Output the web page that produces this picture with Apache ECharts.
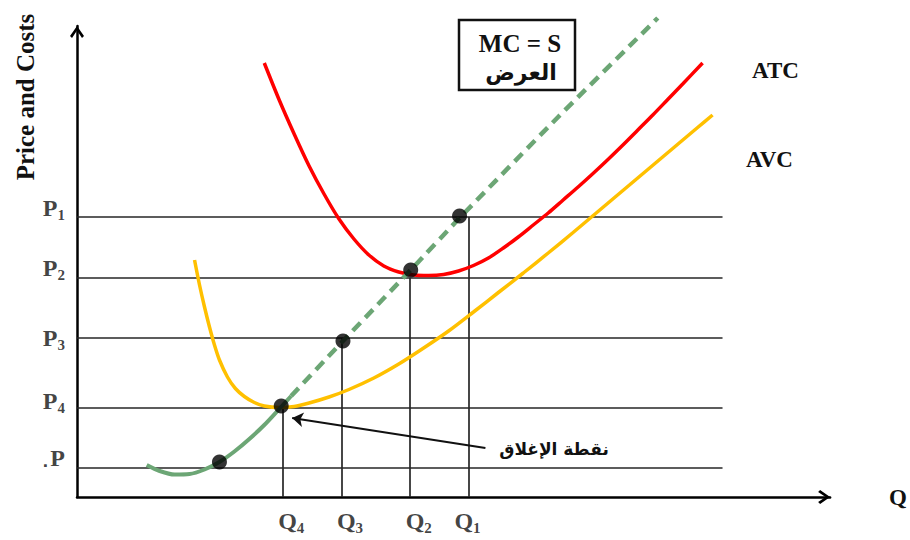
<!DOCTYPE html>
<html>
<head>
<meta charset="utf-8">
<script src="https://cdn.jsdelivr.net/npm/echarts@6/dist/echarts.min.js"></script>
<style>
html,body{margin:0;padding:0;background:#fff;}
#chart{width:910px;height:540px;}
</style>
</head>
<body>
<div id="chart"></div>
<script>
// ---- data (units) ----
const priceNames = ['P1', 'P2', 'P3', 'P4', 'P0'];
const priceLevels = [280, 219, 159, 89, 29];
const priceLineEnd = 648;
const qNames = ['Q4', 'Q3', 'Q2', 'Q1'];
const qValues = [207, 266, 334, 393];
const qTops = [89, 159, 219, 280];
const mcSolid = [[70,32],[83,26],[98,22.5],[113,23],[128,27.5],[143,35],[158,45.5],[173,58],[188,72],[203,88],[215,101]];
const mcDashed = [[215,101],[267,156],[335,227],[384,279],[483,380],[583,479]];
const atc = [[188,434],[203,397],[218,363],[233,331],[248,303],[263,278],[278,258],[293,242],[308,231],[323,225],[338,222],[353,221.5],[368,222.5],[383,226],[398,231.5],[413,239],[428,249],[443,260],[458,272],[473,284],[488,297],[503,310],[518,323.5],[533,337.5],[548,352],[563,367],[578,382],[593,397.5],[608,413],[628,434]];
const avc = [[118,237],[123,212],[128,190],[133,170],[138,152],[143,137],[151,120],[159,108.5],[168,100.5],[178,94.5],[188,91],[203,89.5],[218,90.5],[233,94],[253,100],[273,107.5],[298,119],[323,133],[348,149],[373,166],[398,185],[423,204.5],[448,224],[473,244],[498,264.5],[523,285.5],[548,306.5],[573,327.5],[598,348.5],[623,369.5],[638,382]];
const keyPoints = [[143,35],[205,91],[267,156],[335,227],[384,281]];
const shutdownArrow = [[410,49],[216,79]];

// ---- styles ----
const serif = '"Liberation Serif", "Times New Roman", serif';
const arabic = '"DejaVu Sans", "Noto Sans", sans-serif';
const priceLabelDy = [-9, -10, 0, -7, -10];
const qLabelDx = [8, 8, 9, -1];
const chevron = 'path://M7,0L14,10L12,12L7,4.5L2,12L0,10Z';
const subRich = {
  m: {fontSize: 24, fontWeight: 'bold', fontFamily: serif, color: '#111', lineHeight: 28, verticalAlign: 'middle'},
  s: {fontSize: 15, fontWeight: 'bold', fontFamily: serif, color: '#111', lineHeight: 15, verticalAlign: 'bottom'},
  z: {fontSize: 16, fontWeight: 'bold', fontFamily: arabic, color: '#111', lineHeight: 15, verticalAlign: 'bottom'}
};
function subFmt(name) {
  const letter = name.charAt(0), idx = name.slice(1);
  if (idx === '0') return '{z|٠}{m|' + letter + '}';
  return '{m|' + letter + '}{s|' + idx + '}';
}

const chart = echarts.init(document.getElementById('chart'), null, {renderer: 'svg'});
const axisLine = {show: true, symbol: ['none', chevron], symbolSize: [14, 12], symbolOffset: [0, -6],
  lineStyle: {color: '#000', width: 2.5}};

const guideLines = priceLevels.map(l => ({coords: [[0, l], [priceLineEnd, l]]}))
  .concat(qValues.map((q, i) => ({coords: [[q, 0], [q, qTops[i]]]})));

chart.setOption({
  animation: false,
  backgroundColor: '#fff',
  grid: {left: 77, right: 77, top: 26, bottom: 43, containLabel: false},
  xAxis: {type: 'value', min: 0, max: 756, axisLine: axisLine, axisTick: {show: false},
    axisLabel: {show: false}, splitLine: {show: false},
    name: 'Q', nameLocation: 'end', nameGap: 59,
    nameTextStyle: {fontFamily: serif, fontWeight: 'bold', fontSize: 23, color: '#111', align: 'left', verticalAlign: 'middle'}},
  yAxis: {type: 'value', min: 0, max: 471, axisLine: axisLine, axisTick: {show: false},
    axisLabel: {show: false}, splitLine: {show: false}},
  series: [
    {type: 'lines', coordinateSystem: 'cartesian2d', silent: true, z: 1,
      lineStyle: {color: '#262626', width: 1.7, opacity: 1}, data: guideLines},
    {type: 'line', name: 'AVC', data: avc, smooth: 0.3, symbol: 'none', z: 3,
      lineStyle: {color: '#FFC000', width: 3.5}},
    {type: 'line', name: 'ATC', data: atc, smooth: 0.3, symbol: 'none', z: 3,
      lineStyle: {color: '#FF0000', width: 3.5}},
    {type: 'line', name: 'MC', data: mcSolid, smooth: 0.3, symbol: 'none', z: 4,
      lineStyle: {color: '#6ca675', width: 4}},
    {type: 'line', name: 'S', data: mcDashed, smooth: 0.2, symbol: 'none', z: 4, clip: false,
      lineStyle: {color: '#6ca675', width: 4.5, type: [11, 7]}},
    {type: 'scatter', data: keyPoints, symbolSize: 15, z: 6, itemStyle: {color: '#000'}},
    {type: 'scatter', silent: true, symbolSize: 0, z: 7,
      data: priceLevels.map((l, i) => ({value: [0, l], label: {offset: [0, priceLabelDy[i]]}})),
      label: {show: true, position: 'left', distance: 12, rich: subRich,
        formatter: p => subFmt(priceNames[p.dataIndex])}},
    {type: 'scatter', silent: true, symbolSize: 0, z: 7,
      data: qValues.map((q, i) => ({value: [q, 0], label: {offset: [qLabelDx[i], 0]}})),
      label: {show: true, position: 'bottom', distance: 10, rich: subRich,
        formatter: p => subFmt(qNames[p.dataIndex])}},
    {type: 'lines', coordinateSystem: 'cartesian2d', silent: true, z: 5,
      symbol: ['none', 'arrow'], symbolSize: 11,
      lineStyle: {color: '#111', width: 2, opacity: 1, curveness: 0},
      data: [{coords: shutdownArrow}]}
  ],
  graphic: [
    {type: 'text', x: 25, y: 97, rotation: Math.PI / 2,
      style: {text: 'Price and Costs', font: 'bold 25px ' + serif, fill: '#111', align: 'center', verticalAlign: 'middle'}},
    {type: 'text', x: 752, y: 70,
      style: {text: 'ATC', font: 'bold 23px ' + serif, fill: '#111', align: 'left', verticalAlign: 'middle'}},
    {type: 'text', x: 746, y: 159,
      style: {text: 'AVC', font: 'bold 23px ' + serif, fill: '#111', align: 'left', verticalAlign: 'middle'}},
    {type: 'rect', shape: {x: 459, y: 20, width: 116, height: 70},
      style: {fill: '#fff', stroke: '#111', lineWidth: 2.5}, z: 10},
    {type: 'text', x: 520, y: 43, z: 11,
      style: {text: 'MC = S', font: 'bold 25px ' + serif, fill: '#111', align: 'center', verticalAlign: 'middle'}},
    {type: 'text', x: 521, y: 72, z: 11,
      style: {text: 'العرض', font: 'bold 22px ' + arabic, fill: '#111', align: 'center', verticalAlign: 'middle'}},
    {type: 'text', x: 554, y: 449, z: 11,
      style: {text: 'نقطة الإغلاق', font: 'bold 17px ' + arabic, fill: '#111', align: 'center', verticalAlign: 'middle'}}
  ]
});
</script>
</body>
</html>
